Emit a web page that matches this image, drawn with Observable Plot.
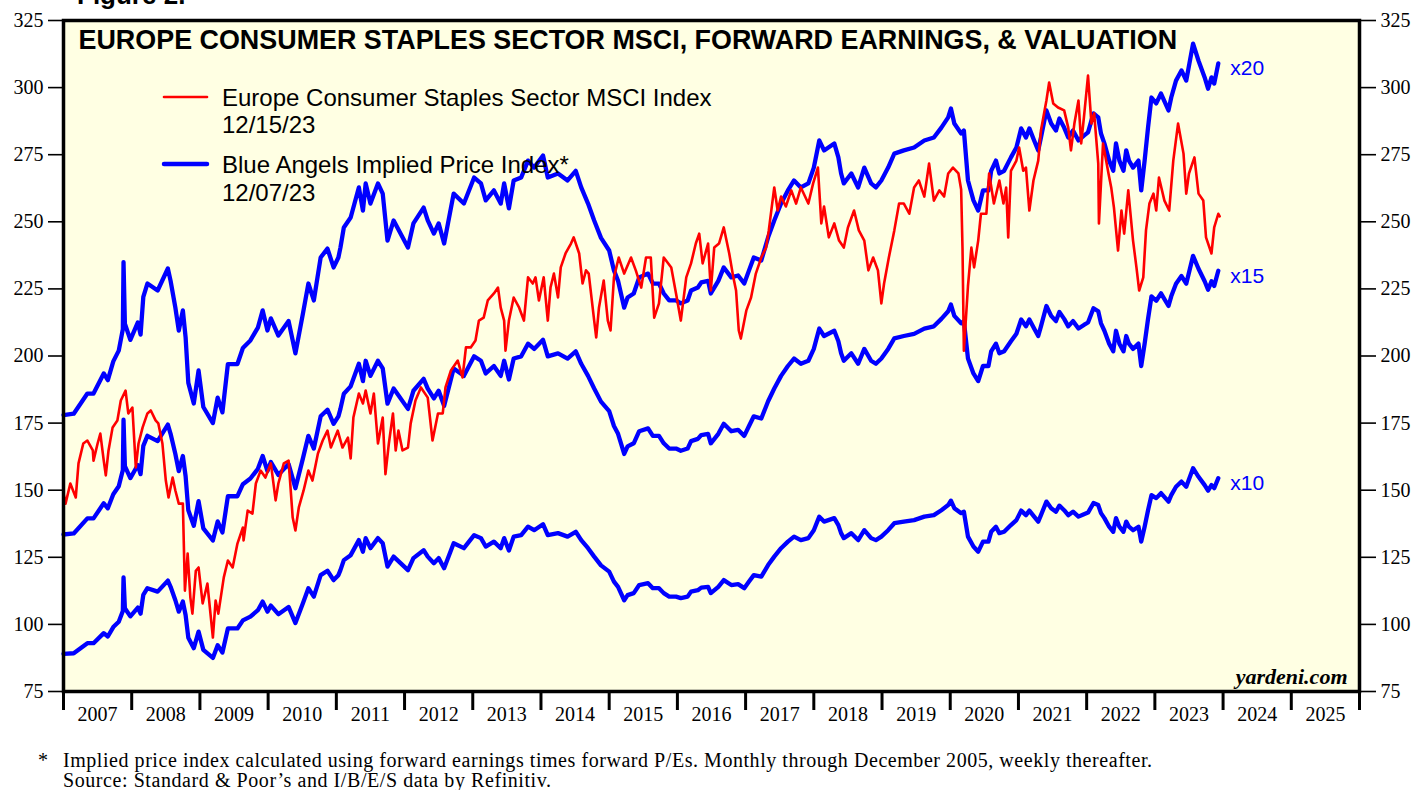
<!DOCTYPE html>
<html>
<head>
<meta charset="utf-8">
<script src="https://cdn.jsdelivr.net/npm/d3@7"></script>
<script src="https://cdn.jsdelivr.net/npm/@observablehq/plot@0.6"></script>
<style>
  html, body { margin: 0; padding: 0; background: #fff; overflow: hidden; }
  #chart { position: relative; width: 1414px; height: 790px; }
  #chart > svg { position: absolute; left: 0; top: 0; }
  #overlay { pointer-events: none; }
</style>
</head>
<body>
<div id="chart"></div>
<script>
// ---------------- DATA ----------------
const yTicks = [75, 100, 125, 150, 175, 200, 225, 250, 275, 300, 325];
const yearBounds = [2007,2008,2009,2010,2011,2012,2013,2014,2015,2016,2017,2018,2019,2020,2021,2022,2023,2024,2025,2026];
const yearLabels = ["2007","2008","2009","2010","2011","2012","2013","2014","2015","2016","2017","2018","2019","2020","2021","2022","2023","2024","2025"];
const peMultiples = [20, 15, 10];
const peLabels = ["x20", "x15", "x10"];

// Blue Angels implied price index at P/E 20 (forward earnings x 20), [decimal year, value]
const impliedX20 = [
[2007.00,178],[2007.15,178.5],[2007.35,186],[2007.44,186],[2007.59,193.5],[2007.65,191],[2007.73,198],[2007.81,202],[2007.87,210],[2007.88,235],[2007.90,212],[2007.98,206],
[2008.09,212.5],[2008.13,208],[2008.17,222],[2008.23,227],[2008.38,224.4],[2008.53,232.6],[2008.57,228],[2008.64,218],[2008.69,209.5],[2008.75,217],[2008.79,207],[2008.83,190],[2008.91,182.3],[2008.98,194.6],
[2009.05,181],[2009.19,175],[2009.26,184.5],[2009.33,179],[2009.41,197],[2009.55,197],[2009.63,203],[2009.74,205.8],[2009.85,210.6],[2009.92,217],[2009.99,209.5],
[2010.04,214],[2010.15,207.6],[2010.30,213],[2010.40,201],[2010.51,215.8],[2010.59,227],[2010.67,220.7],[2010.77,236.7],[2010.87,240],[2010.96,233],
[2011.03,236.7],[2011.06,240.4],[2011.11,247.9],[2011.21,251.6],[2011.33,262.8],[2011.39,254.2],[2011.43,264.3],[2011.50,256.8],[2011.61,264.3],[2011.68,260.5],[2011.75,243],[2011.84,250.5],
[2012.05,240.4],[2012.13,249.4],[2012.28,255.3],[2012.34,250.5],[2012.43,245.6],[2012.50,249.4],[2012.58,241.9],[2012.72,260.5],[2012.87,256.8],
[2013.02,266.5],[2013.12,264.3],[2013.19,258],[2013.31,261.7],[2013.41,256.8],[2013.46,264.3],[2013.53,255],[2013.60,265.4],[2013.71,266.5],[2013.81,272.8],[2013.90,270.2],
[2014.03,274.7],[2014.10,266.5],[2014.25,268],[2014.39,265.4],[2014.51,269],[2014.59,262.8],[2014.69,256.8],[2014.78,250.5],[2014.88,244],
[2015.00,239.3],[2015.07,231.9],[2015.13,228],[2015.22,218],[2015.27,221.8],[2015.36,223.3],[2015.44,229.3],[2015.57,230.7],[2015.64,227],[2015.73,227],[2015.80,223.3],[2015.88,220.7],[2015.98,220.7],
[2016.05,219.6],[2016.15,220.7],[2016.20,224.4],[2016.30,225.5],[2016.35,227.4],[2016.45,228],[2016.49,223.3],[2016.60,228],[2016.68,233],[2016.79,229.3],[2016.89,230],[2016.98,227],
[2017.05,231.9],[2017.12,236.7],[2017.23,235.6],[2017.33,244.2],[2017.42,250.5],[2017.52,256.8],[2017.62,261.7],[2017.71,265.4],[2017.81,262.8],[2017.92,264.3],
[2018.00,270.2],[2018.08,280.3],[2018.15,276.6],[2018.30,279.2],[2018.36,274],[2018.40,268],[2018.44,264.3],[2018.55,268],[2018.65,262.8],[2018.74,270.2],[2018.84,264.3],[2018.91,262.8],[2018.99,265.4],
[2019.09,270.2],[2019.18,275.4],[2019.32,276.6],[2019.47,277.7],[2019.62,280.3],[2019.76,281.4],[2019.87,285.1],[2019.97,288.9],
[2020.01,292.2],[2020.06,286.6],[2020.16,282.9],[2020.20,284],[2020.26,265.4],[2020.34,258],[2020.41,254.2],[2020.48,261.7],[2020.56,261.7],[2020.60,269],[2020.67,272.8],[2020.72,268],[2020.79,269],[2020.89,274],[2020.97,277.7],
[2021.04,284.8],[2021.11,281.4],[2021.16,284.8],[2021.23,280.3],[2021.29,276.6],[2021.33,281.4],[2021.41,291.5],[2021.48,286.6],[2021.55,284],[2021.60,288.5],[2021.67,285.1],[2021.73,281.4],[2021.80,284],[2021.88,280.3],[2021.96,282.1],
[2022.02,283.3],[2022.10,290.4],[2022.17,288.9],[2022.21,282.9],[2022.26,279.2],[2022.33,272.8],[2022.39,269],[2022.43,279.2],[2022.48,272.8],[2022.54,269],[2022.58,276.6],[2022.62,272.8],[2022.68,270.2],[2022.76,272.8],[2022.80,261.7],[2022.85,272.8],[2022.90,285.1],[2022.95,296.3],
[2023.02,294.1],[2023.09,297.8],[2023.20,291.5],[2023.24,296.3],[2023.31,302.6],[2023.39,306.4],[2023.46,302.6],[2023.56,316.4],[2023.64,310],[2023.73,303.8],[2023.78,299.6],[2023.83,303.8],[2023.87,301.5],[2023.93,309]
];

// Europe Consumer Staples Sector MSCI Index, [decimal year, value]
const msciIndex = [
[2007.00,148.8],[2007.03,145],[2007.10,152.5],[2007.18,147.3],[2007.22,160],[2007.29,167.4],[2007.35,168.5],[2007.43,164.8],[2007.44,161],[2007.50,167.4],[2007.54,171.1],[2007.59,161],[2007.62,155.5],[2007.66,164.8],[2007.72,173.4],[2007.79,176],[2007.84,183.4],[2007.91,187.1],[2007.95,178.6],
[2008.01,180.8],[2008.06,158.5],[2008.10,167.4],[2008.16,173.4],[2008.23,178.6],[2008.28,179.7],[2008.35,176],[2008.39,174.9],[2008.45,167.4],[2008.50,153.6],[2008.54,147.3],[2008.60,154.7],[2008.64,149.9],[2008.69,145],[2008.75,145],[2008.78,112.6],[2008.82,126.4],[2008.86,110],[2008.89,104],[2008.94,120],[2008.98,121.2],
[2009.04,107.8],[2009.11,115.2],[2009.16,102.6],[2009.19,95.1],[2009.23,108.9],[2009.27,104],[2009.35,117.5],[2009.41,123.8],[2009.48,121.2],[2009.55,130.1],[2009.63,136.1],[2009.64,131.3],[2009.70,142.4],[2009.77,141.3],[2009.82,152.5],[2009.89,157.3],[2009.96,154.7],
[2010.04,160],[2010.11,146.2],[2010.15,152.5],[2010.23,160],[2010.30,161],[2010.36,139.8],[2010.40,135],[2010.45,143.6],[2010.52,149.9],[2010.59,157.3],[2010.65,153.6],[2010.73,163.7],[2010.80,168.5],[2010.87,172.2],[2010.92,165.9],
[2011.02,172.2],[2011.09,165.9],[2011.17,169.6],[2011.21,161.8],[2011.25,177.1],[2011.33,186],[2011.39,182.3],[2011.43,187.1],[2011.50,178.6],[2011.55,186],[2011.61,167.4],[2011.68,177.1],[2011.72,156],[2011.77,167.4],[2011.83,178.6],[2011.87,164.8],[2011.91,172.2],[2011.97,164.8],
[2012.05,165.9],[2012.09,174.9],[2012.16,183.4],[2012.24,188.3],[2012.34,184.5],[2012.41,168.5],[2012.49,178.6],[2012.56,178.6],[2012.60,188.3],[2012.68,194.6],[2012.78,198.3],[2012.85,192],[2012.90,203.2],[2012.97,203.2],
[2013.04,205.8],[2013.09,213.2],[2013.16,214.3],[2013.22,220.7],[2013.31,223.3],[2013.37,225.5],[2013.41,218],[2013.46,213.2],[2013.48,202],[2013.53,213.2],[2013.60,221.8],[2013.68,218],[2013.75,213.2],[2013.81,229.3],[2013.88,227],[2013.92,229.3],[2013.97,220.7],
[2014.04,229.3],[2014.10,213.2],[2014.14,225.5],[2014.19,230.7],[2014.25,221.8],[2014.29,233],[2014.36,238.2],[2014.44,241.9],[2014.48,244.2],[2014.56,238.2],[2014.61,227],[2014.66,231.9],[2014.70,230.7],[2014.78,213.2],[2014.81,206.9],[2014.85,218],[2014.92,228.1],[2014.98,213.2],
[2015.02,209.5],[2015.07,229.3],[2015.14,236.7],[2015.22,230.7],[2015.32,236.7],[2015.39,231.9],[2015.47,225.5],[2015.54,236.7],[2015.61,236.7],[2015.66,214.3],[2015.73,219.6],[2015.80,236.7],[2015.91,233],[2015.98,223.3],
[2016.05,213.2],[2016.13,229.3],[2016.20,234.5],[2016.27,241.9],[2016.32,245.6],[2016.37,234.5],[2016.45,241.9],[2016.49,224.4],[2016.54,240.4],[2016.61,241.9],[2016.68,247.9],[2016.76,238.2],[2016.82,229.3],[2016.86,224.4],[2016.90,209.5],[2016.93,206.5],
[2017.01,216.9],[2017.08,221.8],[2017.15,230.7],[2017.23,236.7],[2017.30,240.4],[2017.34,246.8],[2017.42,262.8],[2017.47,254.2],[2017.52,259.4],[2017.59,255.7],[2017.67,261.7],[2017.74,256.8],[2017.81,262.8],[2017.92,256.8],[2017.99,264.3],
[2018.06,270.2],[2018.11,249.4],[2018.15,255.7],[2018.22,244.2],[2018.30,249.4],[2018.37,243],[2018.44,240.4],[2018.50,247.9],[2018.59,254.2],[2018.66,246.8],[2018.74,243],[2018.80,231.9],[2018.87,236.7],[2018.94,231.9],[2018.99,219.6],
[2019.03,227],[2019.10,236.7],[2019.18,246.8],[2019.25,256.8],[2019.32,256.8],[2019.40,253],[2019.47,262.8],[2019.54,265.4],[2019.62,259.4],[2019.69,271.7],[2019.76,257.9],[2019.84,261.7],[2019.91,259.4],[2019.97,268],
[2020.04,270.2],[2020.12,268],[2020.16,262],[2020.18,240],[2020.20,202],[2020.26,226],[2020.31,240.4],[2020.35,233],[2020.41,243],[2020.45,253],[2020.53,253],[2020.57,268],[2020.64,256.8],[2020.72,265.4],[2020.78,256.8],[2020.82,262.8],[2020.85,244.2],[2020.89,269],[2020.97,272.8],
[2021.01,277.7],[2021.07,269],[2021.11,270.2],[2021.16,254.2],[2021.22,265.4],[2021.29,272.8],[2021.33,284],[2021.41,295.2],[2021.45,301.9],[2021.51,294.1],[2021.58,292.6],[2021.67,291.5],[2021.73,285.1],[2021.77,276.6],[2021.82,286.6],[2021.88,295.2],[2021.92,279.2],[2021.96,288.9],
[2022.02,304.5],[2022.07,286.6],[2022.11,290.4],[2022.17,271.7],[2022.18,249.4],[2022.24,279.2],[2022.32,268],[2022.36,262.8],[2022.40,255.3],[2022.46,239.3],[2022.51,254.2],[2022.55,245.6],[2022.61,261.7],[2022.68,243],[2022.73,233],[2022.77,224.4],[2022.83,229.3],[2022.87,246.8],[2022.92,256.8],[2022.98,260.5],
[2023.02,254.2],[2023.06,266.5],[2023.14,257.9],[2023.21,254.2],[2023.27,272.8],[2023.34,286.6],[2023.42,275.4],[2023.46,260.5],[2023.50,268],[2023.58,274],[2023.64,260.5],[2023.71,257.9],[2023.75,244.2],[2023.83,238.2],[2023.87,247.9],[2023.93,253],[2023.95,252]
];

// ---------------- BUILD ----------------
const redData = msciIndex.map(([t, v]) => ({t, v}));
const blueData = peMultiples.flatMap((m, i) =>
  impliedX20.map(([t, v]) => ({t, v: v / 20 * m, series: peLabels[i]})));
const blueLast = peMultiples.map((m, i) => {
  const [t, v] = impliedX20[impliedX20.length - 1];
  return {t, v: v / 20 * m, label: peLabels[i]};
});
const yearMids = yearLabels.map(s => +s + 0.5);

const BLUE = "#0000FF", RED = "#FF0000", CREAM = "#FFFFE3";
const SANS = "Liberation Sans, Arial, sans-serif";
const SERIF = "Liberation Serif, Times New Roman, serif";

const svg = Plot.plot({
  width: 1414,
  height: 740,
  marginLeft: 63,
  marginRight: 55,
  marginTop: 20,
  marginBottom: 49,
  x: {type: "linear", domain: [2007, 2026]},
  y: {type: "linear", domain: [75, 325]},
  style: {fontFamily: SERIF, fontSize: "20px", color: "black", background: "white", overflow: "visible"},
  marks: [
    Plot.frame({fill: CREAM, stroke: "none"}),
    Plot.line(blueData, {x: "t", y: "v", z: "series", stroke: BLUE, strokeWidth: 4.3, strokeLinejoin: "round", strokeLinecap: "round"}),
    Plot.line(redData, {x: "t", y: "v", stroke: RED, strokeWidth: 2.6, strokeLinejoin: "round"}),
    Plot.frame({stroke: "black", strokeWidth: 3.5}),
    Plot.axisY({anchor: "left", ticks: yTicks, tickSize: 15, tickPadding: 5, strokeWidth: 1.6, label: null, fontSize: 20}),
    Plot.axisY({anchor: "right", ticks: yTicks, tickSize: 16, tickPadding: 5, strokeWidth: 1.6, label: null, fontSize: 20}),
    Plot.axisX({anchor: "bottom", ticks: yearBounds, tickSize: 19, strokeWidth: 3, tickFormat: () => "", label: null}),
    Plot.axisX({anchor: "bottom", ticks: yearMids, tickSize: 0, tickPadding: 15, tickFormat: d => String(Math.floor(d)), label: null, fontSize: 20}),
    Plot.text(blueLast, {x: "t", y: "v", text: "label", dx: 12, dy: 5, textAnchor: "start", lineAnchor: "middle", fill: BLUE, fontFamily: SANS, fontSize: 21}),
    Plot.text(["EUROPE CONSUMER STAPLES SECTOR MSCI, FORWARD EARNINGS, & VALUATION"], {
      text: d => d, frameAnchor: "top-left", dx: 15, dy: 9, textAnchor: "start", lineAnchor: "top",
      fontFamily: SANS, fontWeight: "bold", fontSize: 26.9, fill: "black"}),
    Plot.text(["yardeni.com"], {
      text: d => d, frameAnchor: "bottom-right", dx: -12, dy: -15, textAnchor: "end", lineAnchor: "middle",
      fontFamily: SERIF, fontWeight: "bold", fontStyle: "italic", fontSize: 22, fill: "black"})
  ]
});
document.getElementById("chart").appendChild(svg);

// overlay: figure label, legend, footnote
const NS = "http://www.w3.org/2000/svg";
const ov = document.createElementNS(NS, "svg");
ov.setAttribute("id", "overlay");
ov.setAttribute("width", 1414);
ov.setAttribute("height", 790);
function txt(x, y, s, attrs) {
  const t = document.createElementNS(NS, "text");
  t.setAttribute("x", x); t.setAttribute("y", y);
  for (const k in attrs) t.setAttribute(k, attrs[k]);
  t.textContent = s;
  ov.appendChild(t);
}
function ln(x1, x2, y, color, w) {
  const l = document.createElementNS(NS, "line");
  l.setAttribute("x1", x1); l.setAttribute("x2", x2);
  l.setAttribute("y1", y); l.setAttribute("y2", y);
  l.setAttribute("stroke", color); l.setAttribute("stroke-width", w);
  l.setAttribute("stroke-linecap", "round");
  ov.appendChild(l);
}
const sans = {"font-family": SANS, "font-size": 24, fill: "black"};
txt(77, 4, "Figure 2.", {"font-family": SANS, "font-size": 26, "font-weight": "bold", fill: "black"});
ln(164, 207, 97, RED, 2.6);
txt(222, 106, "Europe Consumer Staples Sector MSCI Index", sans);
txt(222, 133, "12/15/23", sans);
ln(164, 207, 164, BLUE, 4.5);
txt(222, 173, "Blue Angels Implied Price Index*", sans);
txt(222, 201, "12/07/23", sans);
const serif = {"font-family": SERIF, "font-size": 20, fill: "black"};
txt(38, 766.5, "*", serif);
txt(63, 766.5, "Implied price index calculated using forward earnings times forward P/Es. Monthly through December 2005, weekly thereafter.",
    Object.assign({textLength: 1089, lengthAdjust: "spacing"}, serif));
txt(63, 787, "Source: Standard & Poor\u2019s and I/B/E/S data by Refinitiv.",
    Object.assign({textLength: 488, lengthAdjust: "spacing"}, serif));
document.getElementById("chart").appendChild(ov);
</script>
</body>
</html>
